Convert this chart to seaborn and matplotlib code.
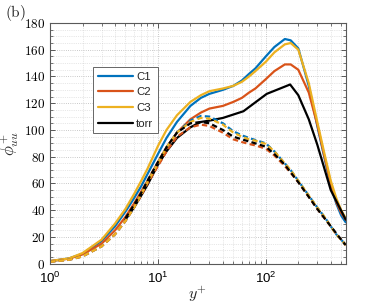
import matplotlib
matplotlib.use("Agg")
import matplotlib.pyplot as plt
import matplotlib.ticker as mticker
import seaborn as sns
import pandas as pd

sns.set_theme(style="ticks")
plt.rcParams["font.family"] = ["Liberation Sans", "DejaVu Sans"]
plt.rcParams["mathtext.fontset"] = "cm"

# y+ stations
yp = [1, 1.5, 2, 3, 4, 5, 6, 7, 8, 10, 12, 15, 20, 25, 30, 40, 50, 60, 70, 80,
      100, 120, 150, 170, 200, 250, 300, 350, 400, 450, 500, 550]

# solid curves (phi_uu+)
c1 = [2, 4, 7.5, 17, 28, 39, 49, 58, 67, 82, 94, 106, 118, 124, 127, 130, 133, 137, 142, 146,
      155, 162, 168, 167, 161, 133, 103, 79, 58, 45, 36, 31]
c2 = [2, 3.8, 7, 15, 25, 35, 45, 54, 62, 76, 87, 98, 108, 113, 116, 118, 121, 124, 128, 131,
      138, 144, 149, 149, 145, 128, 104, 80, 60, 46, 38, 33]
c3 = [2, 4, 8, 18, 30, 41, 52, 62, 71, 88, 100, 111, 121, 126, 129, 131, 133, 136, 140, 144,
      151, 158, 164, 165, 160, 135, 106, 82, 62, 49, 40, 34]

# dashed curves
c1d = [1.5, 3, 5.5, 13, 22, 32, 42, 52, 61, 75, 87, 98, 107, 110.5, 110, 105, 99, 96, 94, 92.5,
       90, 84, 75, 70, 62, 51, 42, 35, 28, 22, 18, 14]
c2d = [1.5, 3, 5.5, 13, 22, 32, 42, 51, 60, 73, 84, 95, 102, 104, 103, 98, 93, 91, 89.5, 88.5,
       86, 81, 73, 68, 61, 50, 41, 34, 28, 22, 18, 14]
c3d = [1.5, 3, 5.5, 13, 22, 32, 42, 52, 61, 75, 87, 98, 106, 109, 108.5, 104, 98, 95, 93, 92,
       89.5, 84, 75, 70, 62, 51, 42, 35, 28, 22, 18, 14]

# torr (DNS) starts at y+ = 5
yp_t = [5, 6, 7, 8, 10, 12, 15, 20, 25, 30, 40, 62, 102, 168, 200, 250, 300, 400, 550]
torr = [33, 42, 51, 59, 74, 84, 94, 102, 106, 107, 109, 114, 127, 134, 126, 108, 89, 55, 33]
yp_td = [5, 6, 7, 8, 10, 12, 15, 20, 25, 30, 40, 50, 60, 80, 100, 120, 150, 200, 250, 300, 400, 500, 550]
torr_d = [34, 44, 53, 62, 76, 87, 98, 105, 106, 105, 100, 95, 93, 90, 87.5, 82, 74, 61, 50, 41, 28, 18, 14]

colors = {"C1": "#0072BD", "C2": "#D95319", "C3": "#EDB120", "torr": "black"}

fig = plt.figure(figsize=(3.82, 3.06), dpi=100)
ax = fig.add_axes([0.131, 0.138, 0.774, 0.787])

lw = 1.6
solid = [("C1", yp, c1), ("C2", yp, c2), ("C3", yp, c3), ("torr", yp_t, torr)]
dashed = [("C1", yp, c1d), ("C2", yp, c2d), ("C3", yp, c3d), ("torr", yp_td, torr_d)]

for name, x, y in solid:
    df = pd.DataFrame({"yplus": x, "phi": y})
    sns.lineplot(data=df, x="yplus", y="phi", color=colors[name], lw=lw,
                 label=name, ax=ax, estimator=None, sort=False)
for name, x, y in dashed:
    df = pd.DataFrame({"yplus": x, "phi": y})
    sns.lineplot(data=df, x="yplus", y="phi", color=colors[name], lw=lw,
                 ax=ax, estimator=None, sort=False, dashes=False)
    ax.lines[-1].set_linestyle((0, (2.4, 1.5)))

ax.set_xscale("log")
ax.set_xlim(1, 550)
ax.set_ylim(0, 180)
ax.set_yticks(range(0, 181, 20))
ax.yaxis.set_minor_locator(mticker.MultipleLocator(5))
ax.yaxis.set_major_formatter(mticker.FuncFormatter(lambda v, p: f"${v:g}$"))
ax.xaxis.set_major_locator(mticker.LogLocator(base=10))
ax.xaxis.set_minor_locator(mticker.LogLocator(base=10, subs=range(2, 10)))
ax.xaxis.set_minor_formatter(mticker.NullFormatter())

ax.grid(True, which="major", ls=":", lw=0.6, color="0.6", alpha=0.7)
ax.grid(True, which="minor", ls=":", lw=0.5, color="0.7", alpha=0.6)
ax.tick_params(which="both", direction="in", top=True, right=True, colors="0.25",
               labelcolor="black", labelsize=9.5)
ax.tick_params(axis="x", which="major", pad=5)
ax.tick_params(which="major", length=3.5, width=0.6)
ax.tick_params(which="minor", length=2, width=0.5)
for s in ax.spines.values():
    s.set_color("0.35")
    s.set_linewidth(0.8)

ax.set_xlabel("$y^{+}$", fontsize=11.5, labelpad=-1)
ax.set_ylabel(r"$\phi^{+}_{uu}$", fontsize=12, labelpad=2)

leg = ax.legend(loc="upper left", bbox_to_anchor=(0.126, 0.84), fontsize=8.2,
                handlelength=3.1, frameon=True, fancybox=False, framealpha=1,
                borderpad=0.4, labelspacing=0.5, handletextpad=0.3)
leg.get_frame().set_edgecolor("0.4")
leg.get_frame().set_linewidth(0.7)

fig.text(0.012, 0.99, r"$\mathrm{(b)}$", fontsize=11, va="top")

fig.savefig("out.png", dpi=100)
